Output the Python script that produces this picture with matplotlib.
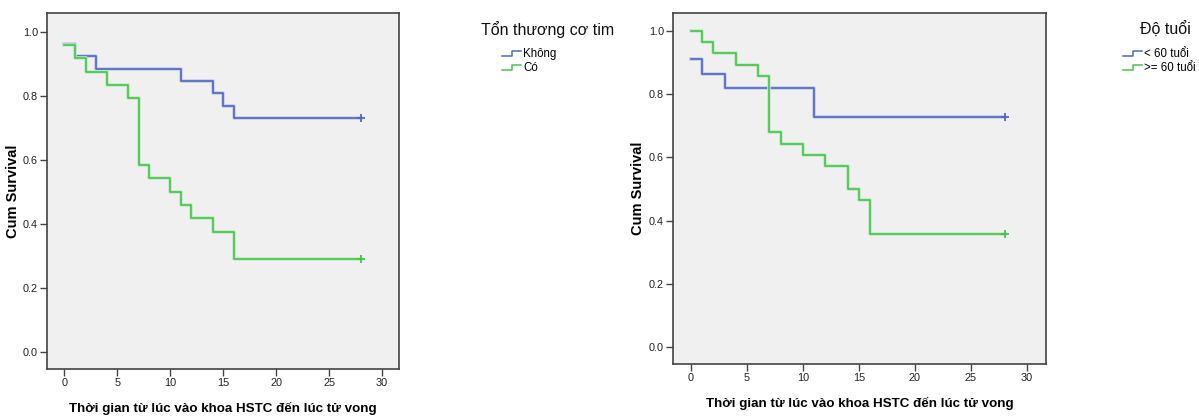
import numpy as np
import matplotlib
matplotlib.use("Agg")
import matplotlib.pyplot as plt
from matplotlib.lines import Line2D
from matplotlib.legend_handler import HandlerLine2D
import matplotlib.patheffects as pe

plt.rcParams['font.family'] = ['Liberation Sans', 'DejaVu Sans']

# bieu do trai: ton thuong co tim
t_khong = [0, 1, 3, 11, 14, 15, 16, 28]
s_khong = [0.962, 0.923, 0.885, 0.846, 0.808, 0.769, 0.731, 0.731]
t_co = [0, 1, 2, 4, 6, 7, 8, 10, 11, 12, 14, 16, 28]
s_co = [0.958, 0.917, 0.875, 0.833, 0.792, 0.583, 0.542, 0.500, 0.458, 0.417, 0.375, 0.292, 0.292]

# bieu do phai: do tuoi
t_duoi60 = [0, 1, 3, 11, 28]
s_duoi60 = [0.909, 0.864, 0.818, 0.727, 0.727]
t_tren60 = [0, 1, 2, 4, 6, 7, 8, 10, 12, 14, 15, 16, 28]
s_tren60 = [1.0, 0.964, 0.929, 0.893, 0.857, 0.679, 0.643, 0.607, 0.571, 0.500, 0.464, 0.357, 0.357]

xlabel = "Thời gian từ lúc vào khoa HSTC đến lúc tử vong"
ylabel = "Cum Survival"

xanh = '#5068bd'
luc = '#48c24e'
xanh_nhat = '#c5cdea'
luc_nhat = '#c2eac4'

W, H = 1199, 416


class HandlerStep(HandlerLine2D):
    def create_artists(self, legend, orig_handle, xdescent, ydescent, width, height, fontsize, trans):
        x0 = -xdescent
        y0 = -ydescent + height * 0.15
        y1 = -ydescent + height * 0.75
        xs = [x0, x0 + width * 0.5, x0 + width * 0.5, x0 + width]
        ys = [y0, y0, y1, y1]
        ln = Line2D(xs, ys, color=orig_handle.get_color(), lw=1.1)
        ln.set_transform(trans)
        return [ln]


def ve(ax, series, title, title_xy, title_ha, leg_xy, xlim, ylim, ylab_x, xlab_y):
    ax.set_facecolor('#f0f0f0')
    handles = []
    for t, s, c, cl, lab in series:
        ax.step(t, s, where='post', color=c, lw=1.2,
                path_effects=[pe.Stroke(linewidth=2.6, foreground=cl), pe.Normal()])
        ax.plot(t[-1], s[-1], marker='+', color=c, ms=6, mew=1.3)
        handles.append(Line2D([], [], color=c, label=lab))
    ax.set_xlim(*xlim)
    ax.set_ylim(*ylim)
    ax.set_xticks(np.arange(0, 31, 5))
    ax.set_yticks(np.arange(0, 1.01, 0.2))
    ax.yaxis.set_major_formatter(matplotlib.ticker.FormatStrFormatter('%.1f'))
    ax.tick_params(direction='out', length=5, width=1, colors='#444444', labelsize=7.8,
                   labelcolor='#222222', pad=1.5)
    for sp in ax.spines.values():
        sp.set_color('#444444')
        sp.set_linewidth(1.2)
    ax.set_xlabel(xlabel, fontsize=9.6, fontweight='bold')
    ax.set_ylabel(ylabel, fontsize=10.5, fontweight='bold')
    ax.yaxis.set_label_coords(ylab_x, 0.5)
    ax.xaxis.set_label_coords(0.5, xlab_y)
    fig.text(title_xy[0] / W, 1 - title_xy[1] / H, title, fontsize=11.5,
             ha=title_ha, va='center', color='#111111')
    ax.legend(handles=handles, loc='upper left', bbox_to_anchor=(leg_xy[0] / W, 1 - leg_xy[1] / H),
              bbox_transform=fig.transFigure, frameon=False, fontsize=8.3,
              handlelength=1.65, handletextpad=0.2, labelspacing=0.2,
              handler_map={Line2D: HandlerStep()}, borderaxespad=0, borderpad=0)


fig = plt.figure(figsize=(W / 100, H / 100), dpi=100)
ax1 = fig.add_axes([0.0392, 0.113, 0.2936, 0.856])
ax2 = fig.add_axes([0.5613, 0.125, 0.3111, 0.844])

ve(ax1, [(t_khong, s_khong, xanh, xanh_nhat, "Không"),
         (t_co, s_co, luc, luc_nhat, "Có")],
   "Tổn thương cơ tim", (481, 30), 'left', (502, 48),
   (-1.64, 31.6), (-0.053, 1.059), -0.076, -0.092)
ve(ax2, [(t_duoi60, s_duoi60, xanh, xanh_nhat, "< 60 tuổi"),
         (t_tren60, s_tren60, luc, luc_nhat, ">= 60 tuổi")],
   "Độ tuổi", (1165, 30), 'center', (1123, 48),
   (-1.61, 31.7), (-0.053, 1.056), -0.076, -0.094)

fig.savefig("out.png", dpi=100)
